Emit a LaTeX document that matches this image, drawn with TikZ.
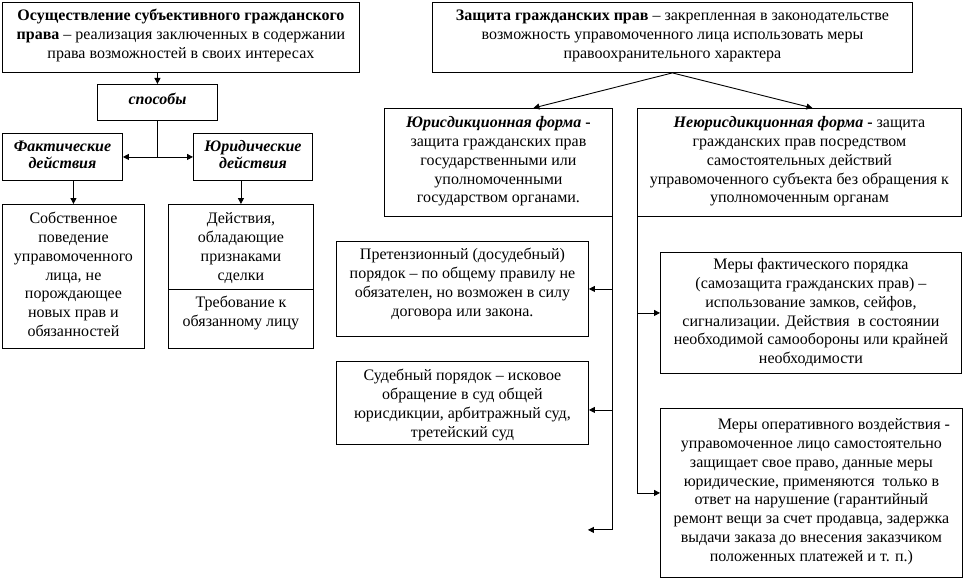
\documentclass[tikz,border=0pt]{standalone}
\usepackage{fontspec}
\setmainfont{Liberation Serif}
\usetikzlibrary{arrows.meta,calc}
\newcommand\tb[4]{\parbox[c][#2][t]{#1}{\centering\vspace*{#3}\strut#4}}
\begin{document}
\begin{tikzpicture}[x=1pt,y=-1pt,
  every node/.style={inner sep=0pt},
  bx/.style={draw,line width=0.9pt,anchor=north west,font=\fontsize{16}{18.8}\selectfont},
  ln/.style={line width=0.9pt},
  arr/.style={ln,-{Triangle[length=6pt,width=6pt]}}]
\useasboundingbox (0,0) rectangle (967,578);

\node[bx] (o) at (2,2) {\tb{357pt}{70pt}{5pt}{\textbf{Осуществление субъективного гражданского}\\\textbf{права} – реализация заключенных в содержании\\права возможностей в своих интересах}};
\node[bx] (sp) at (97,84) {\tb{120pt}{36pt}{7pt}{\bfseries\itshape способы}};
\node[bx,font=\fontsize{16}{17}\selectfont] (fakt) at (2,133) {\tb{120pt}{47pt}{6pt}{\bfseries\itshape Фактические\\действия}};
\node[bx,font=\fontsize{16}{17}\selectfont] (yur) at (193,133) {\tb{119pt}{47pt}{6pt}{\bfseries\itshape Юридические\\действия}};
\node[bx] (sobst) at (2,204) {\tb{142pt}{144pt}{6pt}{Собственное\\поведение\\управомоченного\\лица, не\\порождающее\\новых прав и\\обязанностей}};
\node[bx] (deistv) at (168,204) {\tb{145pt}{85pt}{6pt}{Действия,\\обладающие\\признаками\\сделки}};
\node[bx] (treb) at (168,289) {\tb{145pt}{59pt}{5pt}{Требование к\\обязанному лицу}};

\node[bx] (zas) at (432,2) {\tb{480pt}{70pt}{5pt}{\textbf{Защита гражданских прав} – закрепленная в законодательстве\\возможность управомоченного лица использовать меры\\правоохранительного характера}};
\node[bx] (yuris) at (384,108) {\tb{228pt}{108pt}{6pt}{{\bfseries\itshape Юрисдикционная форма} \textbf{-}\\защита гражданских прав\\государственными или\\уполномоченными\\государством органами.}};
\node[bx] (neyur) at (637,108) {\tb{324pt}{108pt}{6pt}{{\bfseries\itshape Неюрисдикционная форма} \textbf{-} защита\\гражданских прав посредством\\самостоятельных действий\\управомоченного субъекта без обращения к\\уполномоченным органам}};
\node[bx] (pret) at (336,241) {\tb{252pt}{95pt}{5pt}{Претензионный (досудебный)\\порядок – по общему правилу не\\обязателен, но возможен в силу\\договора или закона.}};
\node[bx] (sud) at (336,361) {\tb{252pt}{83pt}{6pt}{Судебный порядок – исковое\\обращение в суд общей\\юрисдикции, арбитражный суд,\\третейский суд}};
\node[bx] (fact) at (660,252) {\tb{301pt}{121pt}{4pt}{Меры фактического порядка\\(самозащита гражданских прав) –\\использование замков, сейфов,\\сигнализации. Действия\ \ в состоянии\\необходимой самообороны или крайней\\необходимости}};
\node[bx] (oper) at (660,408) {\tb{302pt}{169pt}{8pt}{\hspace*{45pt}Меры оперативного воздействия -\\управомоченное лицо самостоятельно\\защищает свое право, данные меры\\юридические, применяются\ \ только в\\ответ на нарушение (гарантийный\\ремонт вещи за счет продавца, задержка\\выдачи заказа до внесения заказчиком\\положенных платежей и т. п.)}};

\draw[arr] (sp.north |- o.south) -- (sp.north);
\coordinate (j) at (sp.south |- fakt.east);
\draw[ln] (sp.south) -- (j);
\draw[arr] (j) -- (fakt.east);
\draw[arr] (j) -- (yur.west);
\draw[arr] (sobst.north |- fakt.south) -- (sobst.north);
\draw[arr] (deistv.north |- yur.south) -- (deistv.north);

\draw[arr] (zas.south) -- ([xshift=35pt]yuris.north);
\draw[arr] (zas.south) -- ([xshift=13pt]neyur.north);

\coordinate (lb) at ([yshift=-313pt]yuris.south east);
\coordinate (lfree) at ([xshift=-25pt]lb);
\coordinate (sa) at ([yshift=-7pt]sud.east);
\draw[ln] (yuris.south east) -- (lb);
\draw[arr] (yuris.south east |- pret.east) -- (pret.east);
\draw[arr] (yuris.south east |- sa) -- (sa);
\draw[arr] (lb) -- (lfree);

\draw[arr] (neyur.south west) -- (neyur.south west |- oper.west) -- (oper.west);
\draw[arr] (neyur.south west |- fact.west) -- (fact.west);
\end{tikzpicture}
\end{document}
